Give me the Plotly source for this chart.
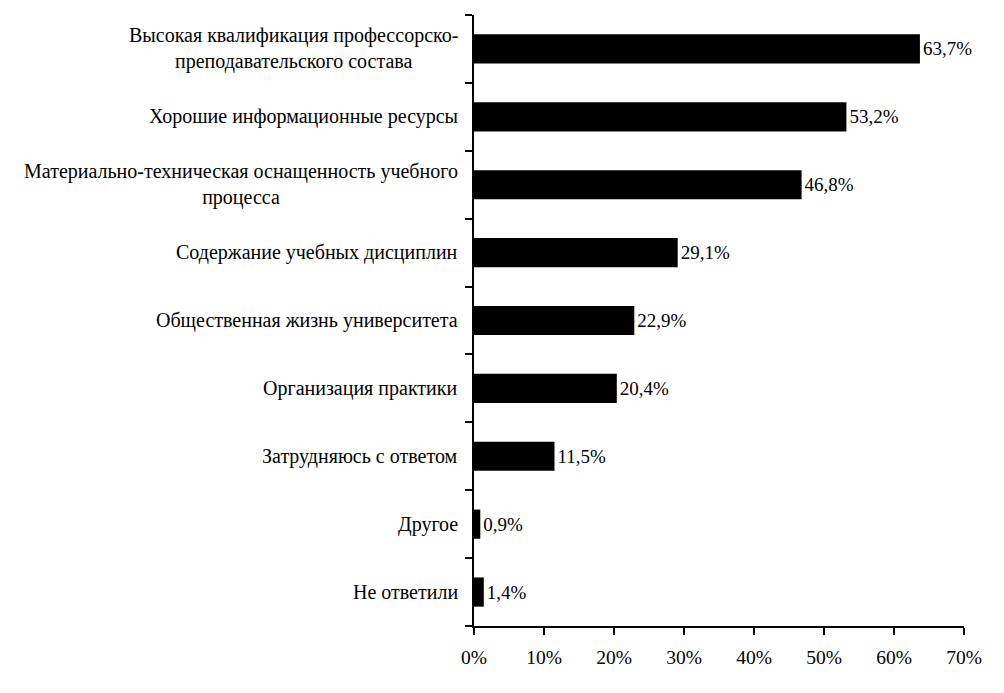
import plotly.graph_objects as go

categories = [
    "Высокая квалификация профессорско-<br>преподавательского состава",
    "Хорошие информационные ресурсы",
    "Материально-техническая оснащенность учебного<br>процесса",
    "Содержание учебных дисциплин",
    "Общественная жизнь университета",
    "Организация практики",
    "Затрудняюсь с ответом",
    "Другое",
    "Не ответили",
]
values = [63.7, 53.2, 46.8, 29.1, 22.9, 20.4, 11.5, 0.9, 1.4]
x_ticks = [0, 10, 20, 30, 40, 50, 60, 70]
x_tick_labels = [f"{t}%" for t in x_ticks]

labels = [f"{v:.1f}".replace(".", ",") + "%" for v in values]
FONT = "Liberation Serif"

fig = go.Figure(go.Bar(
    x=values, y=categories, orientation="h",
    marker=dict(color="black", line=dict(width=0)),
    text=labels, textposition="outside", constraintext="none",
    cliponaxis=False,
    outsidetextfont=dict(family=FONT, size=19, color="black"),
))

annotations = []
for c in categories:
    annotations.append(dict(
        x=0, xref="paper", y=c, yref="y", text=c,
        xanchor="right", yanchor="middle", align="center",
        xshift=-14, showarrow=False,
        font=dict(family=FONT, size=20, color="black"),
    ))

fig.update_layout(
    width=1004, height=693,
    margin=dict(l=466, r=48, t=7, b=75),
    plot_bgcolor="white", paper_bgcolor="white",
    bargap=0.57, showlegend=False,
    font=dict(family=FONT, size=19, color="black"),
    annotations=annotations,
)
fig.update_xaxes(
    range=[0, 70], tickvals=x_ticks, ticktext=x_tick_labels,
    showgrid=False, zeroline=False,
    showline=True, linecolor="black", linewidth=1.5,
    ticks="outside", ticklen=7, tickcolor="black", tickwidth=1.5,
    ticklabelstandoff=6,
    tickfont=dict(family=FONT, size=19.5, color="black"),
)
fig.update_yaxes(
    categoryorder="array", categoryarray=categories[::-1],
    showticklabels=False, tickson="boundaries",
    showgrid=False, zeroline=False,
    showline=True, linecolor="black", linewidth=1.5,
    ticks="outside", ticklen=7, tickcolor="black", tickwidth=1.5,
)
fig.write_html("out.html")
